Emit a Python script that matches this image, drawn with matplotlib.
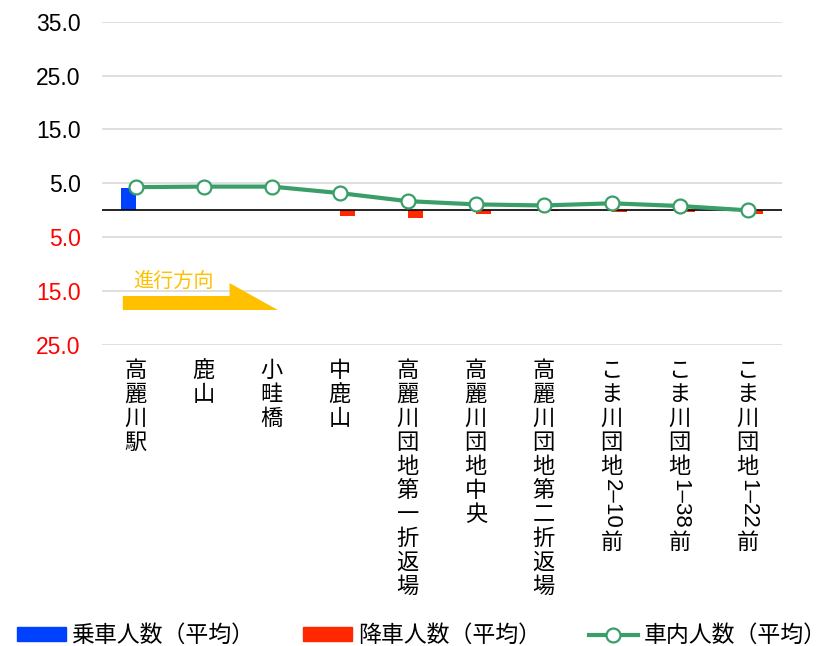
import re
import numpy as np
import matplotlib
matplotlib.use('Agg')
import matplotlib.pyplot as plt
from matplotlib import transforms
from matplotlib.patches import Polygon, Patch
from matplotlib.lines import Line2D

plt.rcParams['font.family'] = ['Noto Sans CJK JP', 'DejaVu Sans']

stops = ['高麗川駅', '鹿山', '小畦橋', '中鹿山', '高麗川団地第一折返場', '高麗川団地中央',
         '高麗川団地第二折返場', 'こま川団地2–10前', 'こま川団地1–38前', 'こま川団地1–22前']
boarding = [4.2, 0, 0, 0, 0, 0, 0, 0, 0, 0]
alighting = [0, 0, 0, 1.1, 1.5, 0.6, 0.2, 0.4, 0.3, 0.6]
onboard = [4.3, 4.4, 4.4, 3.2, 1.7, 1.1, 0.9, 1.3, 0.8, 0.0]
yticks = [35, 25, 15, 5, -5, -15, -25]
legend_labels = ['乗車人数（平均）', '降車人数（平均）', '車内人数（平均）']

BLUE = '#0041FF'
RED = '#FF2800'
GREEN = '#3A9E68'
GOLD = '#FFC000'

fig = plt.figure(figsize=(8.35, 6.46), dpi=100)
ax = fig.add_axes([0.1218, 0.4659, 0.8144, 0.5005])

x = np.arange(len(stops))
w = 0.22
ax.bar(x - w / 2, boarding, w, color=BLUE, zorder=2)
ax.bar(x + w / 2, [-v for v in alighting], w, color=RED, zorder=2)
ax.axhline(0, color='black', lw=1.2, zorder=3)
ax.plot(x, onboard, color=GREEN, lw=3, marker='o', ms=10, mfc='white',
        mec=GREEN, mew=1.6, zorder=4)

ax.set_xlim(-0.5, len(stops) - 0.5)
ax.set_ylim(-25, 35)
ax.set_xticks([])
ax.set_yticks(yticks)
ax.set_yticklabels([f'{abs(v):.1f}' for v in yticks], fontsize=16.5,
                   family=['Liberation Sans'])
for lab, v in zip(ax.get_yticklabels(), yticks):
    lab.set_color('black' if v > 0 else '#FF0000')
ax.tick_params(axis='y', length=0, pad=15)
ax.grid(axis='y', color='#D9D9D9', lw=1.2)
ax.set_axisbelow(True)
for s in ax.spines.values():
    s.set_visible(False)

# direction arrow
arrow = [(-0.19, -15.9), (1.38, -15.9), (1.38, -13.5), (2.09, -18.5), (-0.19, -18.5)]
ax.add_patch(Polygon(arrow, closed=True, color=GOLD, lw=0, zorder=2))
ax.text(-0.03, -13.1, '進行方向', color=GOLD, fontsize=14.5, ha='left', va='center')

# stop names written vertically: kanji upright, number runs turned sideways
renderer = fig.canvas.get_renderer()
base = transforms.blended_transform_factory(ax.transData, ax.transAxes)
PITCH = 24


def vertical_label(xc, label):
    y = -14
    for seg in re.findall(r'[0-9\-–]+|.', label):
        tr = transforms.offset_copy(base, fig=fig, x=0, y=y, units='dots')
        if seg[0] in '0123456789-–':
            t = ax.text(xc, 0, seg, transform=tr, rotation=-90, ha='center', va='top',
                        fontsize=16, family=['Liberation Sans'])
            y -= t.get_window_extent(renderer).height + 2
        else:
            ax.text(xc, 0, seg, transform=tr, ha='center', va='top', fontsize=16)
            y -= PITCH


for xi, name in zip(x, stops):
    vertical_label(xi, name)

handles = [Patch(color=BLUE), Patch(color=RED),
           Line2D([], [], color=GREEN, lw=3, marker='o', ms=10, mfc='white',
                  mec=GREEN, mew=1.6)]
fig.legend(handles, legend_labels, loc='center', bbox_to_anchor=(0.505, 0.016), ncol=3,
           frameon=False, fontsize=16.5, handlelength=2.15, handleheight=0.5,
           handletextpad=0.25, columnspacing=2.1, borderaxespad=0)

fig.savefig('out.png', dpi=100)
